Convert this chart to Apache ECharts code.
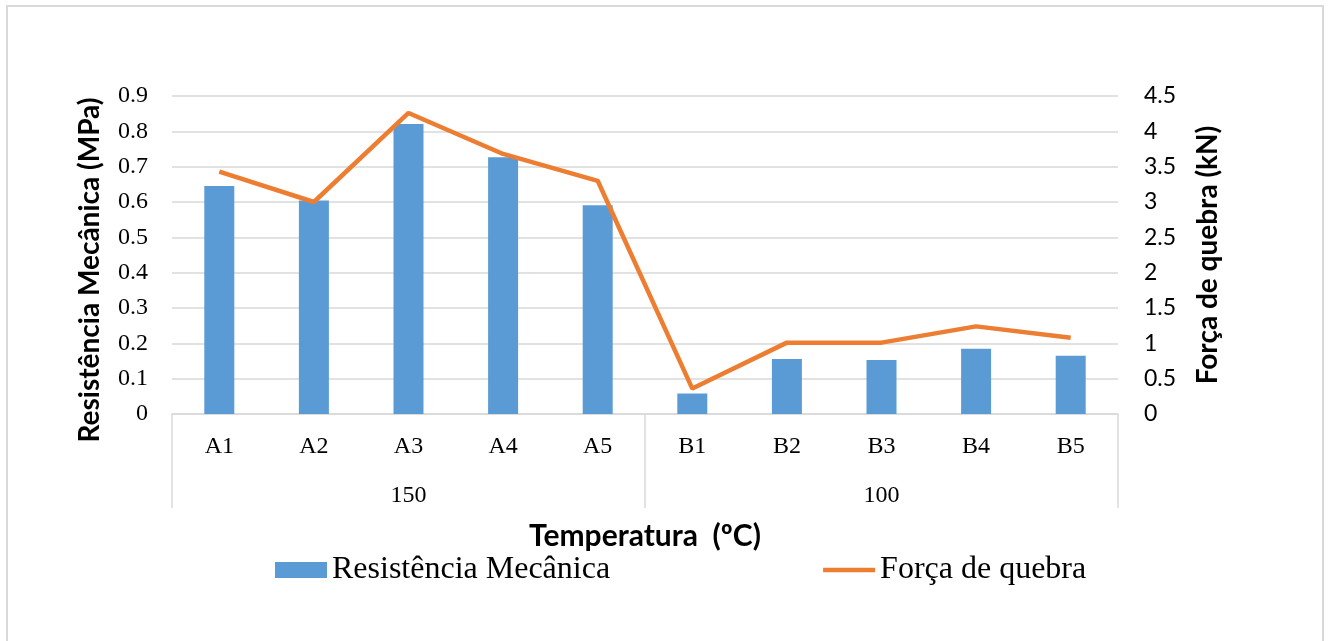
<!DOCTYPE html>
<html>
<head>
<meta charset="utf-8">
<script src="https://cdn.jsdelivr.net/npm/echarts@6/dist/echarts.min.js"></script>
<style>
html,body{margin:0;padding:0;background:#fff;}
#frame{position:absolute;left:6px;top:5px;width:1318px;height:700px;border:2px solid #d9d9d9;box-sizing:border-box;}
#chart{position:absolute;left:0;top:0;width:1333px;height:641px;}
</style>
</head>
<body>
<div id="frame"></div>
<div id="chart"></div>
<script>
const categories = ['A1','A2','A3','A4','A5','B1','B2','B3','B4','B5'];
const groups = ['150','100'];
const resistencia = [0.645, 0.604, 0.821, 0.727, 0.591, 0.058, 0.156, 0.153, 0.185, 0.165];
const forca = [3.43, 3.00, 4.26, 3.68, 3.30, 0.36, 1.01, 1.01, 1.24, 1.08];
const leftTicks = {min:0, max:0.9, interval:0.1};
const rightTicks = {min:0, max:4.5, interval:0.5};

const chart = echarts.init(document.getElementById('chart'));
const serif = 'Liberation Serif';
const sans = 'Lato';
chart.setOption({
  animation:false,
  backgroundColor:'transparent',
  grid:{left:172, right:215, top:96, bottom:227},
  legend:{
    left:270, top:549, itemWidth:52, itemHeight:16, itemGap:213,
    textStyle:{fontFamily:serif, fontSize:32, color:'#000'},
    data:[{name:'Resistência Mecânica', icon:'rect'},
          {name:'Força de quebra', icon:'path://M0,0 L52,0 L52,4.5 L0,4.5 Z'}]
  },
  xAxis:[
    {type:'category', data:categories, position:'bottom',
     axisLine:{lineStyle:{color:'#d9d9d9', width:1.5}},
     axisTick:{show:false},
     axisLabel:{margin:21, fontFamily:serif, fontSize:24, color:'#000'},
     name:'Temperatura  (ºC)', nameLocation:'middle', nameGap:107,
     nameTextStyle:{fontFamily:sans, fontWeight:'bold', fontSize:30, color:'#000'}
    },
    {type:'category', data:groups, position:'bottom', gridIndex:0,
     axisLine:{show:false},
     axisTick:{show:true, length:94, lineStyle:{color:'#d9d9d9', width:1.5}},
     axisLabel:{margin:70, fontFamily:serif, fontSize:24, color:'#000'},
     splitLine:{show:false}
    }
  ],
  yAxis:[
    {type:'value', min:leftTicks.min, max:leftTicks.max, interval:leftTicks.interval, position:'left',
     axisLine:{show:false}, axisTick:{show:false},
     splitLine:{lineStyle:{color:'#d9d9d9', width:1.5}},
     axisLabel:{margin:24, fontFamily:serif, fontSize:24, color:'#000'},
     name:'Resistência Mecânica (MPa)', nameLocation:'middle', nameGap:68,
     nameTextStyle:{fontFamily:sans, fontWeight:'bold', fontSize:28, color:'#000', padding:[0,30,0,0]}
    },
    {type:'value', min:rightTicks.min, max:rightTicks.max, interval:rightTicks.interval, position:'right',
     axisLine:{show:false}, axisTick:{show:false}, splitLine:{show:false},
     axisLabel:{margin:26, fontFamily:sans, fontSize:23, color:'#000'},
     name:'Força de quebra (kN)', nameLocation:'middle', nameGap:76,
     nameTextStyle:{fontFamily:sans, fontWeight:'bold', fontSize:28, color:'#000'}
    }
  ],
  series:[
    {name:'Resistência Mecânica', type:'bar', data:resistencia, xAxisIndex:0, yAxisIndex:0,
     barWidth:30, itemStyle:{color:'#5b9bd5'}},
    {name:'Força de quebra', type:'line', data:forca, xAxisIndex:0, yAxisIndex:1,
     symbol:'none', lineStyle:{color:'#ed7d31', width:4.5}, itemStyle:{color:'#ed7d31'}}
  ]
});
</script>
</body>
</html>
